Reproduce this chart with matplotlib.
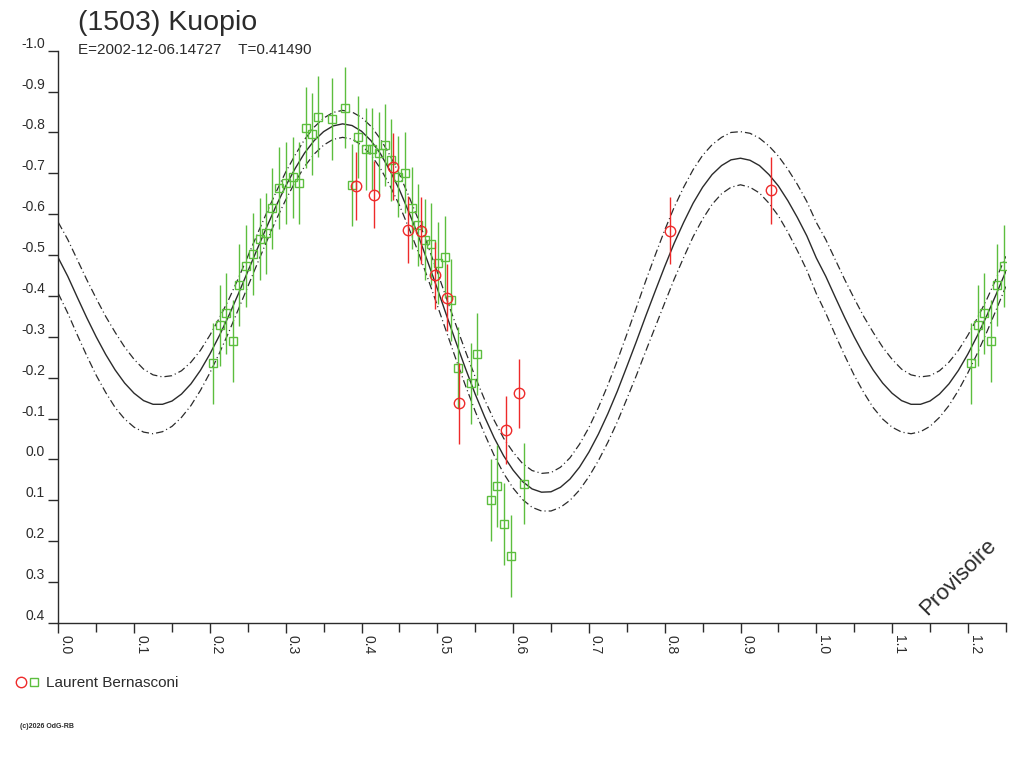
"""
Lightcurve of (1503) Kuopio - phased magnitudes with Fourier fit envelope
"""
import numpy as np
import matplotlib
matplotlib.use('Agg')
import matplotlib.pyplot as plt
from matplotlib.lines import Line2D
from matplotlib.legend_handler import HandlerTuple

plt.rcParams['font.family'] = ['Liberation Sans', 'DejaVu Sans']
plt.rcParams['lines.scale_dashes'] = False

TITLE = '(1503) Kuopio'
SUBTITLE = 'E=2002-12-06.14727    T=0.41490'
OBSERVER = 'Laurent Bernasconi'
COPYRIGHT = '(c)2026 OdG-RB'
STAMP = 'Provisoire'

# fit curve, one rotation (phase 0 -> 1, step 0.0125)
fit_phase = np.linspace(0.0, 1.0, 81)
fit_mag = [-0.493, -0.448, -0.397, -0.347, -0.300, -0.257, -0.219, -0.187, -0.162, -0.144,
           -0.135, -0.135, -0.143, -0.160, -0.185, -0.218, -0.258, -0.303, -0.352, -0.405,
           -0.460, -0.515, -0.569, -0.621, -0.669, -0.712, -0.750, -0.780, -0.802, -0.816,
           -0.821, -0.817, -0.803, -0.780, -0.748, -0.707, -0.660, -0.605, -0.547, -0.483,
           -0.418, -0.351, -0.285, -0.221, -0.160, -0.104, -0.053, -0.009, 0.026, 0.054,
           0.072, 0.080, 0.079, 0.068, 0.048, 0.019, -0.018, -0.062, -0.112, -0.167,
           -0.227, -0.288, -0.351, -0.412, -0.472, -0.529, -0.580, -0.627, -0.666, -0.697,
           -0.719, -0.733, -0.737, -0.732, -0.719, -0.697, -0.669, -0.633, -0.592, -0.547,
           -0.493]
fit_err = [0.087, 0.090, 0.092, 0.093, 0.094, 0.093, 0.092, 0.088, 0.083, 0.077,
           0.072, 0.067, 0.062, 0.057, 0.053, 0.049, 0.046, 0.043, 0.040, 0.038,
           0.037, 0.036, 0.035, 0.034, 0.034, 0.033, 0.033, 0.033, 0.033, 0.033,
           0.033, 0.033, 0.034, 0.035, 0.036, 0.037, 0.038, 0.039, 0.040, 0.040,
           0.041, 0.041, 0.042, 0.042, 0.042, 0.042, 0.043, 0.043, 0.044, 0.044,
           0.045, 0.046, 0.047, 0.049, 0.052, 0.056, 0.060, 0.065, 0.070, 0.075,
           0.079, 0.083, 0.086, 0.088, 0.089, 0.088, 0.086, 0.082, 0.078, 0.073,
           0.069, 0.067, 0.065, 0.066, 0.067, 0.070, 0.073, 0.077, 0.081, 0.084,
           0.087]

# session 1 (red circles)
red_phase = [0.393, 0.417, 0.441, 0.461, 0.478, 0.497, 0.513, 0.528,
             0.590, 0.608, 0.807, 0.940]
red_mag = [-0.669, -0.648, -0.716, -0.562, -0.560, -0.451, -0.396, -0.137,
           -0.073, -0.162, -0.559, -0.659]
red_err = [0.084, 0.082, 0.082, 0.082, 0.082, 0.082, 0.082, 0.099,
           0.083, 0.084, 0.082, 0.082]

# session 2 (green squares)
green_phase = [0.2045, 0.2130, 0.2217, 0.2300, 0.2388, 0.2480, 0.2565, 0.2657,
               0.2736, 0.2823, 0.2912, 0.3004, 0.3090, 0.3175, 0.3264, 0.3350,
               0.3430, 0.3615, 0.3786, 0.3875, 0.3958, 0.4055, 0.4135, 0.4230,
               0.4310, 0.4394, 0.4477, 0.4578, 0.4662, 0.4750, 0.4838, 0.4917,
               0.5010, 0.5100, 0.5185, 0.5270, 0.5445, 0.5528, 0.5713, 0.5790,
               0.5880, 0.5968, 0.6148]
green_mag = [-0.235, -0.328, -0.358, -0.289, -0.426, -0.474, -0.503, -0.540,
             -0.553, -0.614, -0.664, -0.677, -0.690, -0.677, -0.812, -0.797,
             -0.839, -0.832, -0.861, -0.671, -0.788, -0.760, -0.760, -0.749,
             -0.770, -0.732, -0.692, -0.702, -0.616, -0.573, -0.538, -0.527,
             -0.481, -0.496, -0.391, -0.225, -0.186, -0.258, 0.100, 0.064,
             0.157, 0.236, 0.059]
green_err = [0.100, 0.100, 0.099, 0.100, 0.100, 0.100, 0.100, 0.100,
             0.100, 0.100, 0.100, 0.100, 0.100, 0.100, 0.100, 0.100,
             0.100, 0.100, 0.100, 0.100, 0.100, 0.100, 0.100, 0.100,
             0.100, 0.100, 0.100, 0.100, 0.100, 0.100, 0.100, 0.100,
             0.100, 0.100, 0.100, 0.100, 0.100, 0.100, 0.100, 0.100,
             0.100, 0.100, 0.100]

X_MAX = 1.25
RED = '#ee2a2a'
GREEN = '#5cbe3e'
INK = '#2b2b2b'


def wrap(phase, mag, err):
    """Repeat the start of the rotation after phase 1 up to X_MAX"""
    phase = np.asarray(phase)
    mag = np.asarray(mag)
    err = np.asarray(err)
    extra = (phase > 0) & (phase + 1 <= X_MAX + 1e-9)
    return (np.concatenate([phase, phase[extra] + 1]),
            np.concatenate([mag, mag[extra]]),
            np.concatenate([err, err[extra]]))


def plot_lightcurve():
    fig = plt.figure(figsize=(10.24, 7.68), dpi=100)
    ax = fig.add_axes([58.3 / 1024, 1 - 623 / 768,
                       (1005.8 - 58.3) / 1024, (623 - 50.7) / 768])

    ph, mag, err = wrap(fit_phase, fit_mag, fit_err)
    dashdot = (0, (5.5, 2.2, 0.8, 2.2))
    ax.plot(ph, mag, color=INK, lw=1.0, zorder=2)
    ax.plot(ph, mag - err, color=INK, lw=0.9, ls=dashdot, zorder=2)
    ax.plot(ph, mag + err, color=INK, lw=0.9, ls=dashdot, zorder=2)

    gp, gm, ge = wrap(green_phase, green_mag, green_err)
    ax.errorbar(gp, gm, yerr=ge, fmt='s', ms=6, mfc='none', mec=GREEN,
                mew=1.0, ecolor=GREEN, elinewidth=1.0, capsize=0, zorder=3)

    rp, rm, re = wrap(red_phase, red_mag, red_err)
    ax.errorbar(rp, rm, yerr=re, fmt='o', ms=7.5, mfc='none', mec=RED,
                mew=1.0, ecolor=RED, elinewidth=1.0, capsize=0, zorder=4)

    ax.set_xlim(0, X_MAX)
    ax.set_ylim(0.4, -1.0)

    xt = np.round(np.arange(0, 1.21, 0.1), 1)
    ax.set_xticks(xt, [f'{v:.1f}' for v in xt], rotation=270,
                  ha='left', va='top')
    ax.set_xticks(np.round(np.arange(0.05, 1.26, 0.1), 2), minor=True)
    yt = np.round(np.arange(-1.0, 0.41, 0.1), 1)
    ax.set_yticks(yt, [f'{v + 0.0:.1f}' for v in yt], va='bottom')

    ax.tick_params(axis='x', which='major', direction='out', length=7.5,
                   width=1, pad=1, labelsize=10, colors=INK)
    ax.tick_params(axis='x', which='minor', direction='out', length=6.5,
                   width=1, colors=INK)
    ax.tick_params(axis='y', direction='out', length=7.5, width=1, pad=2,
                   labelsize=10, colors=INK)

    for side in ['top', 'right']:
        ax.spines[side].set_visible(False)
    for side in ['left', 'bottom']:
        ax.spines[side].set_color(INK)
        ax.spines[side].set_linewidth(1)

    fig.text(78 / 1024, 1 - 29.5 / 768, TITLE, fontsize=20.5,
             va='baseline', color=INK)
    fig.text(78 / 1024, 1 - 54 / 768, SUBTITLE, fontsize=11,
             va='baseline', color=INK)

    h_red = Line2D([], [], ls='none', marker='o', ms=7.5, mfc='none',
                   mec=RED, mew=1.0)
    h_green = Line2D([], [], ls='none', marker='s', ms=6, mfc='none',
                     mec=GREEN, mew=1.0)
    fig.legend(handles=[(h_red, h_green)], labels=[OBSERVER],
               handler_map={tuple: HandlerTuple(ndivide=None, pad=0.1)},
               loc='center left', bbox_to_anchor=(16 / 1024, 1 - 683 / 768),
               frameon=False, fontsize=11, handlelength=1.5,
               handletextpad=0.45, borderpad=0, borderaxespad=0,
               labelcolor=INK)

    fig.text(20 / 1024, 1 - 726 / 768, COPYRIGHT, fontsize=5,
             va='center', color=INK, fontweight='bold')
    fig.text(958 / 1024, 1 - 577 / 768, STAMP, fontsize=16, rotation=45,
             ha='center', va='center', color=INK)

    fig.savefig('out.png', dpi=100)


if __name__ == '__main__':
    plot_lightcurve()
